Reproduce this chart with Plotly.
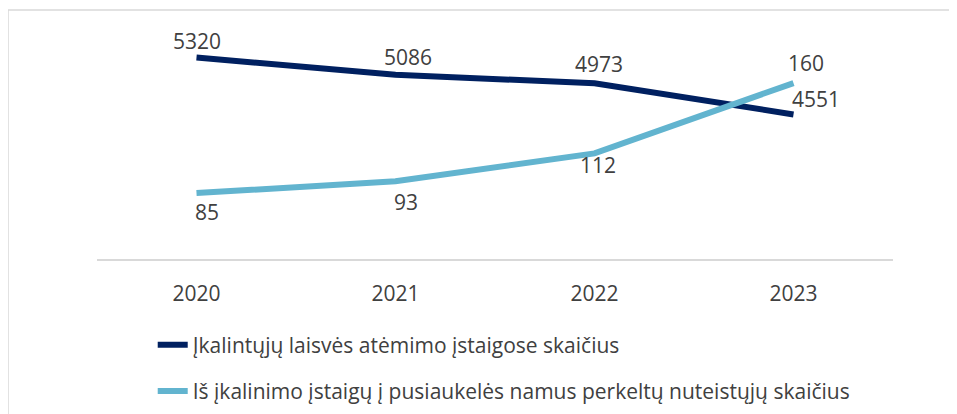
import plotly.graph_objects as go

years = ["2020", "2021", "2022", "2023"]
inmates = [5320, 5086, 4973, 4551]
transferred = [85, 93, 112, 160]
name_inmates = "Įkalintųjų laisvės atėmimo įstaigose skaičius"
name_transferred = "Iš įkalinimo įstaigų į pusiaukelės namus perkeltų nuteistųjų skaičius"

DARK = "#002060"
LIGHT = "#62B4CF"
TXT = "#404040"
FONT = "Open Sans"
FS = 21

fig = go.Figure()
fig.add_trace(go.Scatter(x=years, y=inmates, mode="lines", name=name_inmates,
                         line=dict(color=DARK, width=6), legendgroup="a",
                         yaxis="y"))
fig.add_trace(go.Scatter(x=years, y=transferred, mode="lines", name=name_transferred,
                         line=dict(color=LIGHT, width=6), legendgroup="b",
                         yaxis="y2"))

# label offsets (px)
off_inm = [(0, 16), (12, 18), (4, 19), (22, 15)]
off_tr = [(10, -19), (10, -21), (3, -12), (12, 20)]
for i, (v, (dx, dy)) in enumerate(zip(inmates, off_inm)):
    fig.add_annotation(x=i, y=v, xref="x", yref="y", text=str(v), showarrow=False,
                       xshift=dx, yshift=dy, font=dict(family=FONT, size=FS, color=TXT))
for i, (v, (dx, dy)) in enumerate(zip(transferred, off_tr)):
    fig.add_annotation(x=i, y=v, xref="x", yref="y2", text=str(v), showarrow=False,
                       xshift=dx, yshift=dy, font=dict(family=FONT, size=FS, color=TXT))

# outer frame
fig.add_shape(type="rect", xref="paper", yref="paper", x0=-0.1118, x1=1.2,
              y0=-0.8, y1=1.0418, line=dict(color="#D9D9D9", width=1.5),
              fillcolor="rgba(0,0,0,0)", layer="below")

hidden = dict(visible=True, showgrid=False, showline=False, zeroline=False,
              showticklabels=False, ticks="")

fig.update_layout(
    width=949, height=406,
    margin=dict(l=89, r=64, t=12, b=155, autoexpand=False),
    paper_bgcolor="white", plot_bgcolor="white",
    font=dict(family=FONT, size=FS, color=TXT),
    xaxis=dict(type="category", range=[-0.5, 3.5], showgrid=False,
               showline=True, linecolor="#D9D9D9", linewidth=2,
               ticks="", ticklabelstandoff=15, zeroline=False,
               tickfont=dict(family=FONT, size=FS, color=TXT)),
    yaxis=dict(range=[2600, 5826], **hidden),
    yaxis2=dict(range=[40, 203], overlaying="y", side="right", **hidden),
    showlegend=True,
    legend=dict(orientation="v", x=0.07, xanchor="left", y=-0.274, yanchor="top",
                traceorder="grouped", tracegroupgap=16,
                font=dict(family=FONT, size=FS, color=TXT),
                bgcolor="rgba(0,0,0,0)"),
)

fig.write_html("out.html")
